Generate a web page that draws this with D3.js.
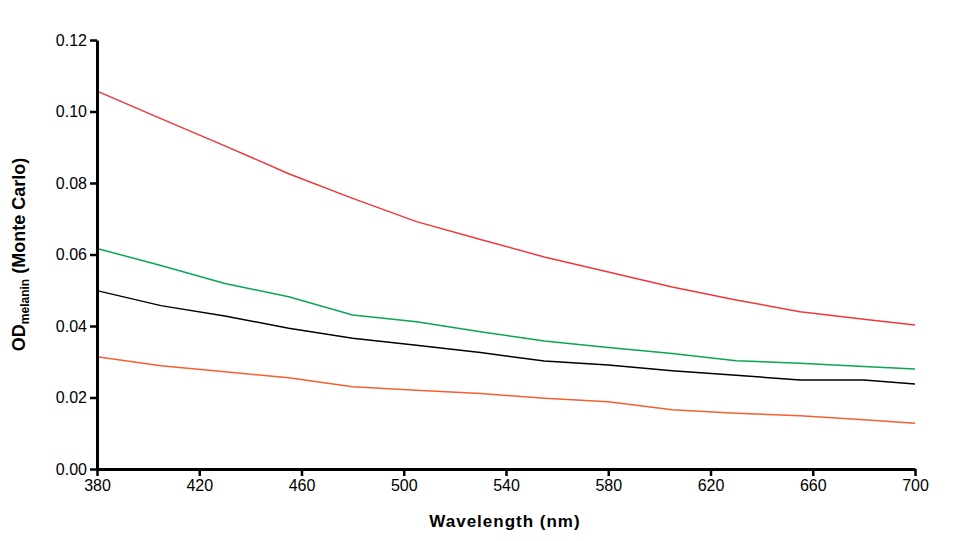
<!DOCTYPE html>
<html>
<head>
<meta charset="utf-8">
<script src="https://cdn.jsdelivr.net/npm/d3@7"></script>
<style>
  body { margin: 0; background: #fff; }
  text { font-family: "Liberation Sans", Arial, sans-serif; }
</style>
</head>
<body>
<div id="chart"></div>
<script>
// wavelengths (nm)
const wavelengths = [380, 405, 430, 455, 480, 505, 530, 555, 580, 605, 630, 655, 680, 700];

// OD melanin series
const redSeries    = [0.1057, 0.0980, 0.0904, 0.0826, 0.0757, 0.0692, 0.0642, 0.0593, 0.0551, 0.0509, 0.0473, 0.0440, 0.0419, 0.0403];
const greenSeries  = [0.0617, 0.0569, 0.0519, 0.0482, 0.0431, 0.0412, 0.0384, 0.0358, 0.0340, 0.0323, 0.0303, 0.0296, 0.0287, 0.0280];
const blackSeries  = [0.0499, 0.0457, 0.0428, 0.0394, 0.0366, 0.0346, 0.0326, 0.0302, 0.0291, 0.0275, 0.0262, 0.0249, 0.0249, 0.0238];
const orangeSeries = [0.0314, 0.0289, 0.0272, 0.0255, 0.0230, 0.0220, 0.0211, 0.0198, 0.0188, 0.0166, 0.0156, 0.0149, 0.0138, 0.0128];

const xTicks = [380, 420, 460, 500, 540, 580, 620, 660, 700];
const yTicks = [0, 0.02, 0.04, 0.06, 0.08, 0.10, 0.12];

const series = [
    { values: redSeries, color: "#f0373c" },
    { values: greenSeries, color: "#0aa552" },
    { values: blackSeries, color: "#000000" },
    { values: orangeSeries, color: "#f5602f" }
];

const width = 968, height = 541;
const margin = { top: 40, right: 53, bottom: 72, left: 97 };

const svg = d3.select("#chart").append("svg")
    .attr("width", width)
    .attr("height", height);

const x = d3.scaleLinear()
    .domain([380, 700])
    .range([margin.left, width - margin.right]);

const y = d3.scaleLinear()
    .domain([0, 0.12])
    .range([height - margin.bottom, margin.top]);

// lines
const line = d3.line()
    .x((d, i) => x(wavelengths[i]))
    .y(d => y(d));

svg.append("g").selectAll("path")
    .data(series)
    .enter().append("path")
    .attr("d", d => line(d.values))
    .attr("fill", "none")
    .attr("stroke", d => d.color)
    .attr("stroke-width", 1.5);

// axes
const xAxis = svg.append("g")
    .attr("transform", `translate(0,${height - margin.bottom})`)
    .call(d3.axisBottom(x).tickValues(xTicks).tickSize(7).tickPadding(4).tickSizeOuter(0));

const yAxis = svg.append("g")
    .attr("transform", `translate(${margin.left},0)`)
    .call(d3.axisLeft(y).tickValues(yTicks).tickFormat(d3.format(".2f")).tickSize(7).tickPadding(3).tickSizeOuter(0));

[xAxis, yAxis].forEach(g => {
    g.select(".domain").attr("stroke", "#000").attr("stroke-width", 3);
    g.selectAll(".tick line").attr("stroke", "#000").attr("stroke-width", 2.5);
    g.selectAll(".tick text")
        .attr("fill", "#000")
        .style("font-size", "16px");
});

// axis titles
svg.append("text")
    .attr("x", 505)
    .attr("y", 527)
    .attr("text-anchor", "middle")
    .style("font-size", "17px")
    .style("font-weight", "bold")
    .style("letter-spacing", "1px")
    .text("Wavelength (nm)");

const yTitle = svg.append("text")
    .attr("transform", `translate(25,${(margin.top + height - margin.bottom) / 2}) rotate(-90)`)
    .attr("text-anchor", "middle")
    .style("font-size", "18px")
    .style("font-weight", "bold");

yTitle.append("tspan").text("OD");
yTitle.append("tspan").attr("dy", 4).style("font-size", "12px").text("melanin");
yTitle.append("tspan").attr("dy", -4).text(" (Monte Carlo)");
</script>
</body>
</html>
